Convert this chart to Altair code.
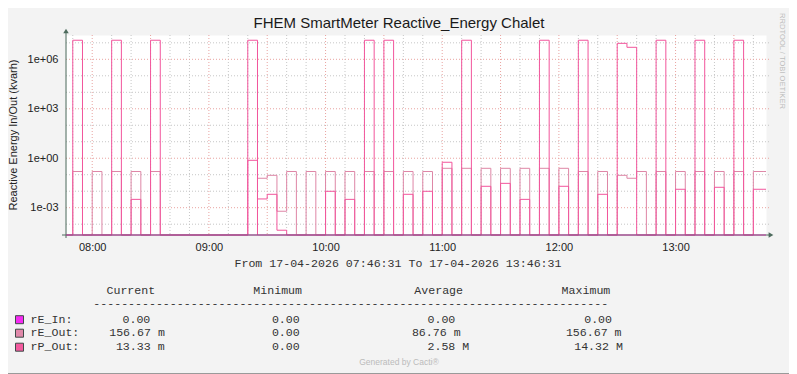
import altair as alt
import pandas as pd

# ---------------- data : 5-minute RRD slots starting 07:45 ----------------
SLOT0 = "07:45"
STEP_MIN = 5
RANGE_START = "07:46:31"
RANGE_END = "13:46:31"

rE_In = [0, 0, 0, 0, 0, 0, 0, 0, 0, 0,
         0, 0, 0, 0, 0, 0, 0, 0, 0, 0,
         0, 0, 0, 0, 0, 0, 0, 0, 0, 0,
         0, 0, 0, 0, 0, 0, 0, 0, 0, 0,
         0, 0, 0, 0, 0, 0, 0, 0, 0, 0,
         0, 0, 0, 0, 0, 0, 0, 0, 0, 0,
         0, 0, 0, 0, 0, 0, 0, 0, 0, 0,
         0, 0, 0]

rE_Out = [0, 0.157, 0, 0.157, 0, 0.157, 0, 0.157, 0, 0.157,
          0, 0, 0, 0, 0, 0, 0, 0, 0, 0,
          0.061, 0.092, 0.00061, 0.157, 0, 0.157, 0, 0.157, 0, 0.157,
          0, 0.157, 0, 0.157, 0, 0.157, 0, 0.157, 0, 0.245,
          0, 0.245, 0, 0.245, 0, 0.245, 0, 0.245, 0, 0.245,
          0, 0.245, 0, 0.157, 0, 0.157, 0, 0.092, 0.061, 0.157,
          0, 0.157, 0, 0.157, 0, 0.157, 0, 0.157, 0, 0.157,
          0, 0.157, 0.157]

rP_Out_peak = [0, 14.32e6, 0, 0, 0, 14.32e6, 0, 0, 0, 14.32e6,
               0, 0, 0, 0, 0, 0, 0, 0, 0, 14.32e6,
               0, 0, 0, 0, 0, 0, 0, 0, 0, 0,
               0, 14.32e6, 0, 14.32e6, 0, 0, 0, 0, 0, 0,
               0, 14.32e6, 0, 0, 0, 0, 0, 0, 0, 14.32e6,
               0, 0, 0, 14.32e6, 0, 0, 0, 9.3e6, 5.35e6, 0,
               0, 14.32e6, 0, 0, 0, 14.32e6, 0, 0, 0, 14.32e6,
               0, 0, 0]

rP_Out_base = [0, 0, 0, 0, 0, 0, 0, 0.0032, 0, 0,
               0, 0, 0, 0, 0, 0, 0, 0, 0, 0.75,
               0.0034, 0.0065, 0.000043, 0, 0, 0, 0, 0.0099, 0, 0.0032,
               0, 0, 0, 0, 0, 0.0065, 0, 0.0099, 0, 0.57,
               0, 0, 0, 0.0199, 0, 0.030, 0, 0.0032, 0, 0,
               0, 0.0199, 0, 0, 0, 0.0065, 0, 0, 0, 0,
               0, 0, 0, 0.0131, 0, 0, 0, 0.0173, 0, 0,
               0, 0.0131, 0.0131]

hour_labels = ["08:00", "09:00", "10:00", "11:00", "12:00", "13:00"]
y_label_values = [1e-3, 1e0, 1e3, 1e6]
y_domain = [2.21e-5, 2.98e7]

title_text = "FHEM SmartMeter Reactive_Energy Chalet"
y_title = "Reactive Energy In/Out (kvarh)"
range_text = "From 17-04-2026 07:46:31 To 17-04-2026 13:46:31"
watermark = "RRDTOOL / TOBI OETIKER"
footer = "Generated by Cacti®"

legend_names = ["rE_In:", "rE_Out:", "rP_Out:"]
legend_colors = ["#F52BF2", "#E089AA", "#F25A9E"]
col_headers = ["Current", "Minimum", "Average", "Maximum"]
cur_vals = ["0.00", "156.67 m", "13.33 m"]
min_vals = ["0.00", "0.00", "0.00"]
avg_vals = ["0.00", "86.76 m", "2.58 M"]
max_vals = ["0.00", "156.67 m", "14.32 M"]

# ---------------- layout ----------------
W, H = 700, 200
OX, OY = 66, 35          # plot origin in page pixels
LINE_MAUVE = "#DE86A6"
LINE_PINK = "#F2559C"
AXIS_COL = "#4D6B5D"
GRID_MINOR = "#C6C6C6"
GRID_MAJOR = "#E9A3A0"
MONO = "Liberation Mono"
SANS = "Liberation Sans"


def to_min(s):
    p = [int(v) for v in s.split(":")]
    while len(p) < 3:
        p.append(0)
    return p[0] * 60 + p[1] + p[2] / 60.0


t0, t1 = to_min(RANGE_START), to_min(RANGE_END)
xscale = alt.Scale(domain=[t0, t1], clamp=True, nice=False, zero=False)
yscale = alt.Scale(type="log", domain=y_domain, clamp=True, nice=False)

xaxis = alt.Axis(values=[to_min(h) for h in hour_labels],
                 labelExpr="(floor(datum.value/60) < 10 ? '0' : '') + floor(datum.value/60) + ':' + "
                           "(datum.value % 60 < 10 ? '0' : '') + (datum.value % 60)",
                 domain=False, ticks=False, grid=False, title=None,
                 labelFont=SANS, labelFontSize=11, labelColor="#222222", labelPadding=6)
LOGE = "round(log(datum.value)/LN10)"
yaxis = alt.Axis(values=y_label_values,
                 labelExpr="'1e' + (" + LOGE + " < 0 ? '-' : '+') + (abs(" + LOGE + ") < 10 ? '0' : '') + abs(" + LOGE + ")",
                 domain=False, ticks=False, grid=False, title=None,
                 labelFont=SANS, labelFontSize=11, labelColor="#222222", labelPadding=8)

layers = []

# grid lines
vt = [v for v in range(470, 830, 10)]
vdf_minor = pd.DataFrame({"t": [v for v in vt if v % 30 != 0]})
vdf_major = pd.DataFrame({"t": [v for v in vt if v % 30 == 0]})
dec = [10.0 ** e for e in range(-4, 8)]
hdf_minor = pd.DataFrame({"v": [d for i, d in enumerate(dec) if i % 3 != 1]})
hdf_major = pd.DataFrame({"v": [d for i, d in enumerate(dec) if i % 3 == 1]})

for df, col in ((vdf_minor, GRID_MINOR), (vdf_major, GRID_MAJOR)):
    layers.append(alt.Chart(df).mark_rule(strokeDash=[1, 2], color=col, strokeWidth=1).encode(
        x=alt.X("t:Q", scale=xscale, axis=xaxis), y=alt.value(0), y2=alt.value(H)))
for df, col in ((hdf_minor, GRID_MINOR), (hdf_major, GRID_MAJOR)):
    layers.append(alt.Chart(df).mark_rule(strokeDash=[1, 2], color=col, strokeWidth=1).encode(
        y=alt.Y("v:Q", scale=yscale, axis=yaxis), x=alt.value(0), x2=alt.value(W + 3)))


def series_df(vals):
    times = [to_min(SLOT0) + STEP_MIN * k for k in range(len(vals))] + [t1]
    return pd.DataFrame({"t": times, "v": list(vals) + [vals[-1]]})


def series_layer(vals, color, opacity=1.0):
    return alt.Chart(series_df(vals)).transform_calculate(
        y="max(datum.v, 1e-12)"
    ).mark_line(interpolate="step-after", color=color, strokeWidth=1, opacity=opacity).encode(
        x=alt.X("t:Q", scale=xscale, axis=xaxis),
        y=alt.Y("y:Q", scale=yscale, axis=yaxis))


layers.append(series_layer(rE_Out, LINE_MAUVE))
layers.append(series_layer(rP_Out_base, LINE_PINK))
layers.append(series_layer(rP_Out_peak, LINE_PINK))

one = pd.DataFrame({"a": [0]})


def px(x):
    return x - OX


def py(y):
    return y - OY


# axis lines with arrows
layers.append(alt.Chart(one).mark_rule(color=AXIS_COL, strokeWidth=1).encode(
    x=alt.value(0), y=alt.value(py(238)), y2=alt.value(py(31))))
layers.append(alt.Chart(one).mark_rule(color=AXIS_COL, strokeWidth=1).encode(
    x=alt.value(px(62)), x2=alt.value(px(769)), y=alt.value(H)))
layers.append(alt.Chart(one).mark_point(shape="triangle-up", filled=True, size=30, color=AXIS_COL, opacity=1).encode(
    x=alt.value(0), y=alt.value(py(31))))
layers.append(alt.Chart(one).mark_point(shape="triangle-right", filled=True, size=30, color=AXIS_COL, opacity=1).encode(
    x=alt.value(px(771)), y=alt.value(H)))

# rE_In (always zero) drawn along the floor
layers.append(series_layer(rE_In, legend_colors[0], opacity=0.4))


def txt(s, x, y, size=11, font=SANS, align="left", baseline="alphabetic", color="#222222", angle=0):
    return alt.Chart(pd.DataFrame({"s": [s]})).mark_text(
        align=align, baseline=baseline, font=font, fontSize=size, color=color, angle=angle
    ).encode(x=alt.value(px(x)), y=alt.value(py(y)), text="s:N")


layers.append(txt(title_text, 399, 28.3, size=15, align="center", color="#1A1A1A"))
layers.append(txt(y_title, 14, 135, size=11, align="center", baseline="middle", angle=270))
layers.append(txt(range_text, 398, 266.5, size=11.6, font=MONO, align="center", color="#333333"))
layers.append(txt(watermark, 782, 61, size=7.6, align="center", baseline="middle", angle=90, color="#BDBDBD"))
layers.append(txt(footer, 399, 365, size=8.5, align="center", color="#BBBBBB"))

# legend table
head_x = [106.5, 253.3, 414.3, 561.6]
for h, x in zip(col_headers, head_x):
    layers.append(txt(h, x, 294, size=11.6, font=MONO, color="#333333"))
layers.append(txt("-" * 74, 93.3, 306.5, size=11.6, font=MONO, color="#333333"))

row_y = [322.5, 336, 350]
cell_x = [[122.5, 109.2, 115.9],
          [271.9, 271.9, 271.9],
          [427.5, 411.9, 427.5],
          [584.2, 565.9, 574.2]]
cols = [cur_vals, min_vals, avg_vals, max_vals]
for r in range(3):
    top = row_y[r] - 6.8
    layers.append(alt.Chart(one).mark_rect(color=legend_colors[r], stroke="#3F4A48", strokeWidth=1).encode(
        x=alt.value(px(15.5)), x2=alt.value(px(23.5)), y=alt.value(py(top)), y2=alt.value(py(top + 8))))
    layers.append(txt(legend_names[r], 30.6, row_y[r], size=11.6, font=MONO, color="#333333"))
    for c in range(4):
        layers.append(txt(cols[c][r], cell_x[c][r], row_y[r], size=11.6, font=MONO, color="#333333"))

# image frame (bottom edge)
layers.append(alt.Chart(one).mark_rule(color="#9A9A9A", strokeWidth=1).encode(
    x=alt.value(px(8)), x2=alt.value(px(789)), y=alt.value(py(373.5))))

chart = alt.layer(*layers).properties(
    width=W, height=H,
    padding={"left": 58, "top": 27, "right": 23, "bottom": 139},
    autosize=alt.AutoSizeParams(type="none"),
    background="#F3F3F3",
).configure_view(fill="white", strokeOpacity=0)

chart.save("out.html", embed_options={"renderer": "svg", "actions": False})
